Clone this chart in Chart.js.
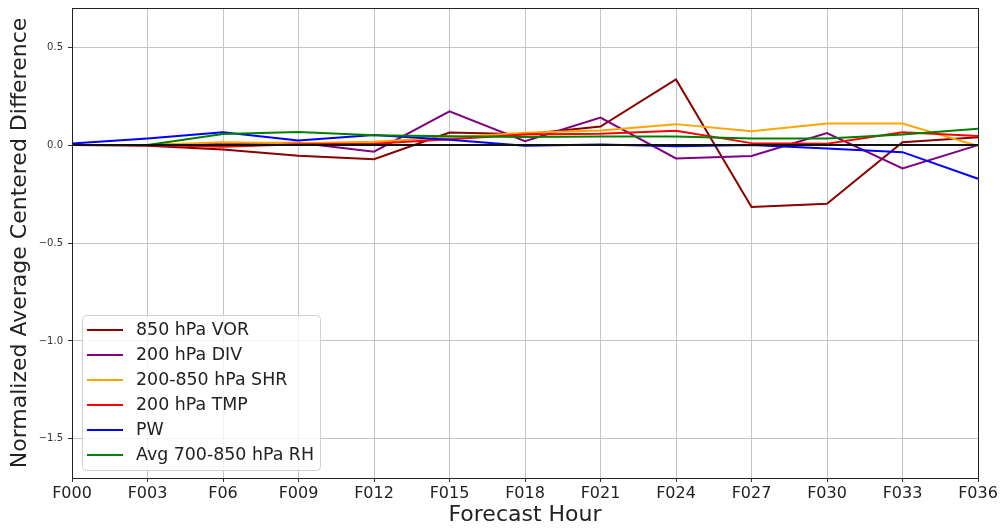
<!DOCTYPE html>
<html>
<head>
<meta charset="utf-8">
<script src="https://cdn.jsdelivr.net/npm/chart.js@4"></script>
<style>
  html, body { margin: 0; padding: 0; background: #fff; }
  #wrap { width: 1001px; height: 529px; }
</style>
</head>
<body>
<div id="wrap"><canvas id="chart" width="1001" height="529"></canvas></div>
<script>
// forecast hours on the x axis
const hours = ['F000', 'F003', 'F06', 'F009', 'F012', 'F015', 'F018', 'F021', 'F024', 'F027', 'F030', 'F033', 'F036'];
const yTicks = [-1.5, -1.0, -0.5, 0.0, 0.5];

// series
const vor850 = [0, -0.003, -0.022, -0.055, -0.072, 0.064, 0.055, 0.095, 0.335, -0.316, -0.300, 0.015, 0.040];
const div200 = [0, 0, 0.010, 0.012, -0.034, 0.172, 0.020, 0.140, -0.068, -0.056, 0.061, -0.119, 0.000];
const shr = [0, 0, 0.015, 0.009, 0.017, 0.039, 0.063, 0.075, 0.107, 0.071, 0.110, 0.110, -0.005];
const tmp200 = [0, 0, -0.008, 0.004, 0.007, 0.030, 0.054, 0.058, 0.073, 0.010, 0.007, 0.065, 0.046];
const pw = [0.008, 0.034, 0.065, 0.024, 0.052, 0.027, -0.004, 0.003, -0.006, 0.000, -0.017, -0.036, -0.172];
const rh = [0, 0, 0.056, 0.067, 0.050, 0.045, 0.041, 0.044, 0.044, 0.034, 0.034, 0.054, 0.083];
const zeroLine = [0, 0, 0, 0, 0, 0, 0, 0, 0, 0, 0, 0, 0];

const FONT = "'DejaVu Sans', sans-serif";

function series(label, data, color, order) {
    return {
        label: label,
        data: data,
        borderColor: color,
        backgroundColor: color,
        borderWidth: 2,
        pointRadius: 0,
        tension: 0,
        fill: false,
        order: order
    };
}

// frame around the plot, like matplotlib spines
const framePlugin = {
    id: 'frame',
    afterDatasetsDraw(chart) {
        const a = chart.chartArea;
        const ctx = chart.ctx;
        ctx.save();
        ctx.strokeStyle = '#222';
        ctx.lineWidth = 1;
        ctx.strokeRect(Math.round(a.left) + 0.5, Math.round(a.top) + 0.5,
            Math.round(a.right - a.left), Math.round(a.bottom - a.top));
        ctx.restore();
    }
};

// legend box at lower left inside the plot
const boxLegend = {
    id: 'boxLegend',
    afterDraw(chart) {
        const ctx = chart.ctx;
        const a = chart.chartArea;
        const items = chart.data.datasets.filter(d => d.label);
        const x = a.left + 10, w = 238;
        const rowH = 25;
        const h = items.length * rowH + 5;
        const y = a.bottom - 8 - h;
        ctx.save();
        ctx.beginPath();
        ctx.roundRect(x + 0.5, y + 0.5, w, h, 4);
        ctx.fillStyle = 'rgba(255,255,255,0.8)';
        ctx.fill();
        ctx.strokeStyle = '#d0d0d0';
        ctx.lineWidth = 1;
        ctx.stroke();
        ctx.font = '17.4px ' + FONT;
        ctx.textBaseline = 'middle';
        ctx.fillStyle = '#222';
        items.forEach((d, i) => {
            const cy = y + 15 + i * rowH;
            ctx.beginPath();
            ctx.moveTo(x + 5, cy);
            ctx.lineTo(x + 41, cy);
            ctx.strokeStyle = d.borderColor;
            ctx.lineWidth = 2;
            ctx.stroke();
            ctx.fillText(d.label, x + 54, cy);
        });
        ctx.restore();
    }
};

const ctx = document.getElementById('chart').getContext('2d');
const chart = new Chart(ctx, {
    type: 'line',
    data: {
        labels: hours,
        datasets: [
            series('850 hPa VOR', vor850, '#8b0000', 7),
            series('200 hPa DIV', div200, '#800080', 6),
            series('200-850 hPa SHR', shr, '#ffa500', 5),
            series('200 hPa TMP', tmp200, '#ff0000', 4),
            series('PW', pw, '#0000ff', 3),
            series('Avg 700-850 hPa RH', rh, '#008000', 2),
            series('', zeroLine, '#111111', 1)
        ]
    },
    options: {
        responsive: false,
        animation: false,
        devicePixelRatio: 1,
        layout: { padding: { left: 0, right: 23, top: 8, bottom: 0 } },
        plugins: {
            legend: { display: false },
            tooltip: { enabled: false }
        },
        scales: {
            x: {
                type: 'category',
                offset: false,
                grid: { color: '#c4c4c4', lineWidth: 1, tickLength: 4, tickColor: '#333' },
                border: { display: true, color: '#222' },
                ticks: {
                    color: '#222',
                    font: { family: FONT, size: 16 },
                    padding: 2,
                    maxRotation: 0,
                    autoSkip: false
                },
                title: {
                    display: true,
                    text: 'Forecast Hour',
                    color: '#222',
                    font: { family: FONT, size: 22 },
                    padding: { top: 0, bottom: 1 }
                },
                afterFit(scale) { scale.height = 51; }
            },
            y: {
                min: -1.7,
                max: 0.7,
                grid: { color: '#c4c4c4', lineWidth: 1, tickLength: 4, tickColor: '#333' },
                border: { display: true, color: '#222' },
                ticks: {
                    color: '#333',
                    font: { family: FONT, size: 10 },
                    padding: 5,
                    callback: v => v.toFixed(1).replace('-', '\u2212')
                },
                afterBuildTicks(scale) {
                    scale.ticks = yTicks.map(v => ({ value: v }));
                },
                title: {
                    display: true,
                    text: 'Normalized Average Centered Difference',
                    color: '#222',
                    font: { family: FONT, size: 22 },
                    padding: { top: 7, bottom: 0 }
                },
                afterFit(scale) {
                    scale.width = 72;
                    scale.paddingTop = 0;
                    scale.paddingBottom = 0;
                }
            }
        }
    },
    plugins: [framePlugin, boxLegend]
});
</script>
</body>
</html>
